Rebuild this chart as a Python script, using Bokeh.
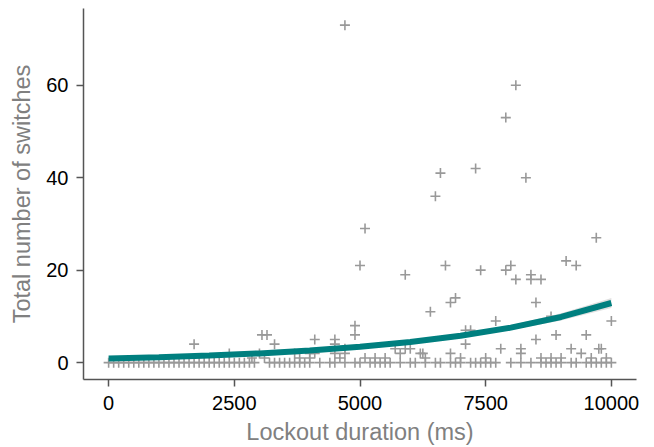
from bokeh.plotting import figure
from bokeh.models import Range1d, FixedTicker, ColumnDataSource
from bokeh.embed import file_html
from bokeh.resources import INLINE

# ---- data ----
zero_x = [0, 100, 200, 300, 400, 500, 600, 700, 800, 900, 1000, 1100, 1200, 1300, 1400,
          1500, 1600, 1700, 1800, 1900, 2000, 2100, 2200, 2300, 2400, 2500, 2600, 2700,
          2800, 2900, 3200, 3300, 3400, 3500, 3600, 3700, 3800, 3900, 4000, 4200, 4400,
          4500, 4700, 4900, 5000, 5200, 5300, 5400, 5500, 5600, 5800, 6000, 6100, 6300,
          6500, 6600, 6800, 6900, 7000, 7200, 7300, 7400, 7500, 7600, 7700, 8000, 8200,
          8400, 8600, 8700, 8800, 8900, 9000, 9200, 9300, 9500, 9600, 9700, 9800, 9900,
          10000]
nz_x = [1700, 2400, 2850, 3000, 3050, 3150, 3300, 3100, 3700, 3800, 4000, 4000, 4100,
        4100, 4500, 4500, 4500, 4600, 4700, 4700, 4700, 4900, 4900, 5000, 5100, 5100,
        5300, 5500, 5700, 5800, 5900, 5900, 6000, 6200, 6250, 6300, 6400, 6500, 6600,
        6700, 6800, 6800, 6900, 7000, 7100, 7100, 7200, 7300, 7400, 7500, 7700, 7800,
        7900, 7900, 8000, 8100, 8100, 8200, 8200, 8300, 8400, 8400, 8500, 8500, 8600,
        8600, 8800, 8800, 8900, 9000, 9100, 9200, 9300, 9400, 9500, 9600, 9700, 9750,
        9800, 9900, 10000]
nz_y = [4, 2, 1, 2, 6, 6, 4, 1, 2, 1, 1, 2, 5,
        2, 5, 4, 2, 1, 73, 3, 2, 8, 6, 21, 29, 1,
        1, 1, 3, 2, 19, 3, 3, 2, 2, 1, 11, 36, 41,
        21, 13, 2, 14, 1, 7, 4, 7, 42, 20, 1, 9, 3,
        20, 53, 21, 60, 18, 3, 2, 40, 19, 18, 13, 5, 18,
        1, 10, 1, 6, 1, 22, 3, 21, 2, 6, 1, 27, 3,
        3, 1, 9]

fit_x = [0, 1000, 2000, 3000, 4000, 5000, 6000, 7000, 8000, 9000, 10000]
fit_y = [0.90, 1.17, 1.53, 2.00, 2.61, 3.41, 4.45, 5.80, 7.57, 9.88, 12.9]
fit_lo = [0.76, 1.03, 1.39, 1.85, 2.42, 3.20, 4.16, 5.42, 7.04, 9.10, 11.8]
fit_hi = [1.04, 1.31, 1.67, 2.15, 2.80, 3.62, 4.74, 6.18, 8.10, 10.66, 14.0]

x_ticks = [0, 2500, 5000, 7500, 10000]
y_ticks = [0, 20, 40, 60]
x_title = "Lockout duration (ms)"
y_title = "Total number of switches"

pts_x = zero_x + nz_x
pts_y = [0] * len(zero_x) + nz_y

p = figure(width=654, height=447, output_backend="svg", toolbar_location=None,
           x_range=Range1d(-500, 10500), y_range=Range1d(-3.65, 76.6),
           min_border_left=83, min_border_top=8, min_border_right=18,
           min_border_bottom=67)
p.outline_line_color = None
p.xgrid.visible = False
p.ygrid.visible = False
p.background_fill_color = "white"
p.border_fill_color = "white"

src = ColumnDataSource(dict(x=pts_x, y=pts_y))
p.scatter("x", "y", source=src, marker="cross", size=10, line_width=1.6,
          line_color="#999999")

band = ColumnDataSource(dict(x=fit_x, lo=fit_lo, hi=fit_hi, y=fit_y))
p.varea(x="x", y1="lo", y2="hi", source=band, fill_color="#cccccc", fill_alpha=0.6)
p.line("x", "y", source=band, line_color="#007f7f", line_width=6)

p.xaxis.ticker = FixedTicker(ticks=x_ticks)
p.yaxis.ticker = FixedTicker(ticks=y_ticks)
for ax in (p.xaxis[0], p.yaxis[0]):
    ax.minor_tick_line_color = None
    ax.major_tick_in = 0
    ax.major_tick_out = 7
    ax.axis_line_color = "#555555"
    ax.axis_line_width = 1.5
    ax.major_tick_line_color = "#555555"
    ax.major_tick_line_width = 1.5
    ax.major_label_text_font = "Liberation Sans"
    ax.major_label_text_font_size = "20px"
    ax.major_label_text_color = "black"
    ax.axis_label_text_font = "Liberation Sans"
    ax.axis_label_text_font_size = "23.5px"
    ax.axis_label_text_font_style = "normal"
    ax.axis_label_text_color = "#808080"
p.xaxis.axis_label = x_title
p.yaxis.axis_label = y_title
p.xaxis.major_label_standoff = 9
p.xaxis.axis_label_standoff = 6
p.yaxis.major_label_standoff = 8
p.yaxis.axis_label_standoff = 8

open("out.html", "w").write(file_html(p, INLINE))
